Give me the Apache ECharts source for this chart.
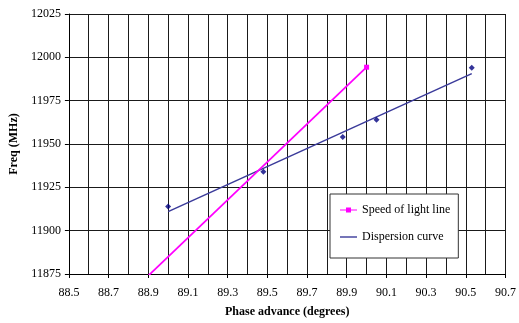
<!DOCTYPE html>
<html>
<head>
<meta charset="utf-8">
<script src="https://cdn.jsdelivr.net/npm/echarts@6/dist/echarts.min.js"></script>
<style>html,body{margin:0;padding:0;background:#fff}#c{width:519px;height:323px}</style>
</head>
<body>
<div id="c"></div>
<script>
// Data
const dispPhase = [89.0, 89.48, 89.88, 90.05, 90.53];
const dispFreq  = [11914, 11934, 11954, 11964, 11994];
const fitPhase  = [89.0, 90.53];
const fitFreq   = [11911, 11990.6];
const lightPhase = [88.9, 90.0];
const lightFreq  = [11874, 11994.3];
const xTicks = [88.5, 88.7, 88.9, 89.1, 89.3, 89.5, 89.7, 89.9, 90.1, 90.3, 90.5, 90.7];
const yTicks = [11875, 11900, 11925, 11950, 11975, 12000, 12025];

const FONT = '"Liberation Serif", "Times New Roman", serif';
const grid = '#1a1a1a';
const ICON_LIGHT = 'path://M0,0 M17,14 M0,6.4 L6,6.4 L6,4.6 L11,4.6 L11,6.4 L17,6.4 L17,7.6 L11,7.6 L11,9.4 L6,9.4 L6,7.6 L0,7.6 Z';
const ICON_DISP = 'path://M0,0 M17,14 M0,6.3 L17,6.3 L17,7.7 L0,7.7 Z';

const chart = echarts.init(document.getElementById('c'), null, {renderer: 'canvas'});
chart.setOption({
  backgroundColor: '#fff',
  animation: false,
  textStyle: {fontFamily: FONT, color: '#000'},
  grid: {left: 63, top: 14, right: 11, bottom: 47, containLabel: false},
  legend: {
    orient: 'vertical', left: 330, top: 194,
    padding: [9, 8, 14, 10], itemGap: 13, itemWidth: 17, itemHeight: 14,
    backgroundColor: '#fff', borderColor: '#333', borderWidth: 1,
    itemStyle: {borderWidth: 0},
    textStyle: {fontFamily: FONT, fontSize: 12, color: '#000'},
    data: [
      {name: 'Speed of light line', icon: ICON_LIGHT},
      {name: 'Dispersion curve', icon: ICON_DISP}
    ]
  },
  xAxis: {
    type: 'value', min: xTicks[0], max: xTicks[xTicks.length - 1], interval: 0.2,
    name: 'Phase advance (degrees)', nameLocation: 'middle', nameGap: 32,
    nameTextStyle: {fontFamily: FONT, fontSize: 12, fontWeight: 'bold', color: '#000'},
    axisLine: {show: true, lineStyle: {color: '#000', width: 1}},
    axisTick: {show: true, length: 4, inside: false, lineStyle: {color: '#000'}},
    minorTick: {show: false, splitNumber: 2},
    minorSplitLine: {show: true, lineStyle: {color: grid, width: 1}},
    splitLine: {show: true, lineStyle: {color: grid, width: 1}},
    axisLabel: {fontFamily: FONT, fontSize: 12, color: '#000', margin: 13,
      formatter: v => Number(v).toFixed(1)}
  },
  yAxis: {
    type: 'value', min: yTicks[0], max: yTicks[yTicks.length - 1], interval: 25,
    name: 'Freq (MHz)', nameLocation: 'middle', nameGap: 38, nameRotate: 90,
    nameTextStyle: {fontFamily: FONT, fontSize: 12, fontWeight: 'bold', color: '#000'},
    axisLine: {show: true, lineStyle: {color: '#000', width: 1}},
    axisTick: {show: true, length: 4, lineStyle: {color: '#000'}},
    splitLine: {show: true, lineStyle: {color: grid, width: 1}},
    axisLabel: {fontFamily: FONT, fontSize: 12, color: '#000', margin: 8,
      formatter: v => String(Math.round(v))}
  },
  series: [
    {
      name: 'Speed of light line', type: 'line', clip: true,
      color: '#ff00ff',
      lineStyle: {color: '#ff00ff', width: 1.75},
      itemStyle: {color: '#ff00ff'},
      symbol: 'rect', symbolSize: 5,
      data: lightPhase.map((x, i) => i === 0 ? {value: [x, lightFreq[i]], symbol: 'none'} : [x, lightFreq[i]]),
      z: 3
    },
    {
      name: 'Dispersion curve', type: 'line',
      color: '#3a3a9a',
      lineStyle: {color: '#3a3a9a', width: 1.5},
      itemStyle: {color: '#3a3a9a'},
      symbol: 'none', showSymbol: false,
      data: fitPhase.map((x, i) => [x, fitFreq[i]]),
      z: 2
    },
    {
      name: 'Measured', type: 'scatter',
      symbol: 'diamond', symbolSize: 6,
      itemStyle: {color: '#000080'},
      data: dispPhase.map((x, i) => [x, dispFreq[i]]),
      z: 4
    }
  ]
});
</script>
</body>
</html>
